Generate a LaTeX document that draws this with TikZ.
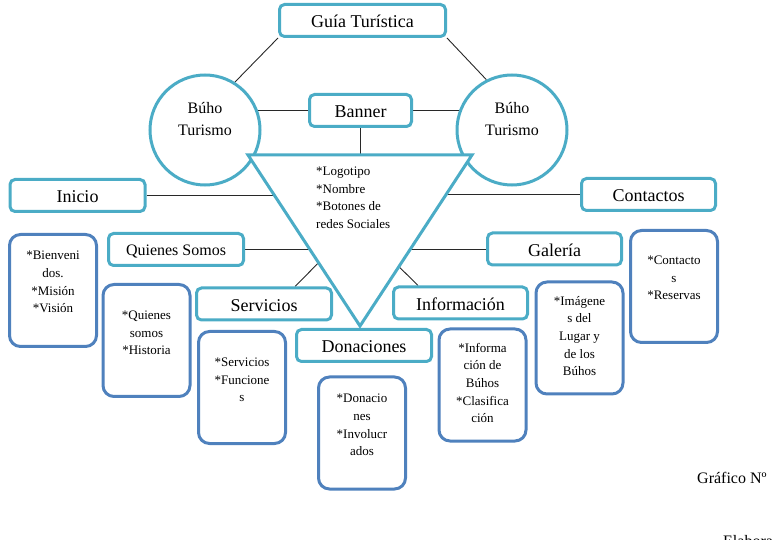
\documentclass[tikz,border=0pt]{standalone}
\usepackage{fontspec}
\setmainfont{Liberation Serif}
\usetikzlibrary{calc,backgrounds}
\definecolor{hdrcol}{RGB}{75,172,198}
\definecolor{detcol}{RGB}{79,129,189}
\definecolor{lincol}{RGB}{40,40,40}
\begin{document}
\begin{tikzpicture}[x=1pt,y=-1pt,
  hdr/.style={draw=hdrcol, line width=3pt, rounded corners=5pt, fill=white, minimum height=32pt, inner sep=0pt, text height=15pt, text depth=0pt, font=\fontsize{18}{21}\selectfont},
  det/.style={draw=detcol, line width=3pt, rounded corners=11pt, fill=white, minimum width=87pt, minimum height=112pt, inner sep=0pt},
  dtxt/.style={align=center, inner sep=0pt, font=\fontsize{13}{17.7}\selectfont},
  circ/.style={circle, draw=hdrcol, line width=3pt, fill=white, minimum size=110pt, inner sep=0pt},
  ctxt/.style={align=center, inner sep=0pt, font=\fontsize{16}{22}\selectfont},
  link/.style={draw=lincol, line width=0.9pt}]
\useasboundingbox (0,0) rectangle (772,540);
\clip (0,0) rectangle (772,540);

% circles
\node[circ] (lc) at (205,130) {};
\node[circ] (rc) at (512,130) {};
\node[ctxt] (lct) at (205,119.5) {Búho\\Turismo};
\node[ctxt] (rct) at (512,119.5) {Búho\\Turismo};

% triangle
\coordinate (tL) at (248,155);
\coordinate (tR) at (472,155);
\coordinate (tB) at (360,326);
\draw[draw=hdrcol, line width=3pt, fill=white, line join=miter] (tL) -- (tR) -- (tB) -- cycle;
\node[align=left, anchor=west, inner sep=0pt, font=\fontsize{13}{17.5}\selectfont] (ttxt) at (316,198)
  {*Logotipo\\*Nombre\\*Botones de\\redes Sociales};

% header boxes
\node[hdr, minimum width=166pt] (guia) at (362.5,20.5) {Guía Turística};
\node[hdr, minimum width=102pt] (banner) at (360.5,110.5) {Banner};
\node[hdr, minimum width=135pt] (ini) at (77.5,195.5) {Inicio};
\node[hdr, minimum width=135pt, font=\fontsize{16}{19}\selectfont, text height=12pt] (qui) at (176,249.5) {Quienes Somos};
\node[hdr, minimum width=135pt] (ser) at (264,304) {Servicios};
\node[hdr, minimum width=135pt] (don) at (364,345.5) {Donaciones};
\node[hdr, minimum width=134pt] (inf) at (460.5,303) {Información};
\node[hdr, minimum width=134pt] (gal) at (554.5,249) {Galería};
\node[hdr, minimum width=134pt] (con) at (648.5,194.5) {Contactos};

% edge points on triangle
\coordinate (eIni) at (274.4,195.5);
\coordinate (eQui) at (309.5,249.5);
\coordinate (eSer) at (318.3,263);
\coordinate (eInf) at (399.3,267);
\coordinate (eGal) at (410.8,249);
\coordinate (eCon) at (446.3,194.5);

% connectors
\begin{scope}[on background layer]
\draw[link] (guia.south west) -- (lc.58);
\draw[link] (guia.south east) -- (rc.117);
\draw[link] (lc.20 |- banner.west) -- (banner.west);
\draw[link] (banner.east) -- (rc.160 |- banner.east);
\draw[link] (banner.south) -- (banner.south |- tL);
\draw[link] (ini.east) -- (eIni);
\draw[link] (qui.east) -- (eQui);
\draw[link] ([xshift=31pt]ser.north) -- (eSer);
\draw[link] ([xshift=-42.5pt]inf.north) -- (eInf);
\draw[link] (gal.west) -- (eGal);
\draw[link] (con.west) -- (eCon);
\end{scope}

% detail boxes
\node[det] (d1) at (53,290.5) {};
\node[det] (d2) at (146.5,340.5) {};
\node[det] (d3) at (242,387.5) {};
\node[det] (d4) at (362,433) {};
\node[det] (d5) at (482.5,385) {};
\node[det] (d6) at (579.5,338) {};
\node[det] (d7) at (674,286.5) {};

\node[dtxt] (t1) at (53,282) {*Bienveni\\dos.\\*Misión\\*Visión};
\node[dtxt] (t2) at (146.5,333) {*Quienes\\somos\\*Historia};
\node[dtxt] (t3) at (242,380) {*Servicios\\*Funcione\\s};
\node[dtxt] (t4) at (362,425) {*Donacio\\nes\\*Involucr\\ados};
\node[dtxt] (t5) at (482.5,383) {*Informa\\ción de\\Búhos\\*Clasifica\\ción};
\node[dtxt] (t6) at (579.5,336) {*Imágene\\s del\\Lugar y\\de los\\Búhos};
\node[dtxt] (t7) at (674,278) {*Contacto\\s\\*Reservas};

% caption texts (cut by the page edge)
\node[anchor=base west, inner sep=0pt, font=\fontsize{16}{19}\selectfont] (graf) at (697,483) {Gráfico Nº};
\node[anchor=base west, inner sep=0pt, font=\fontsize{16}{19}\selectfont] (elab) at (723,546) {Elaboración};
\end{tikzpicture}
\end{document}
